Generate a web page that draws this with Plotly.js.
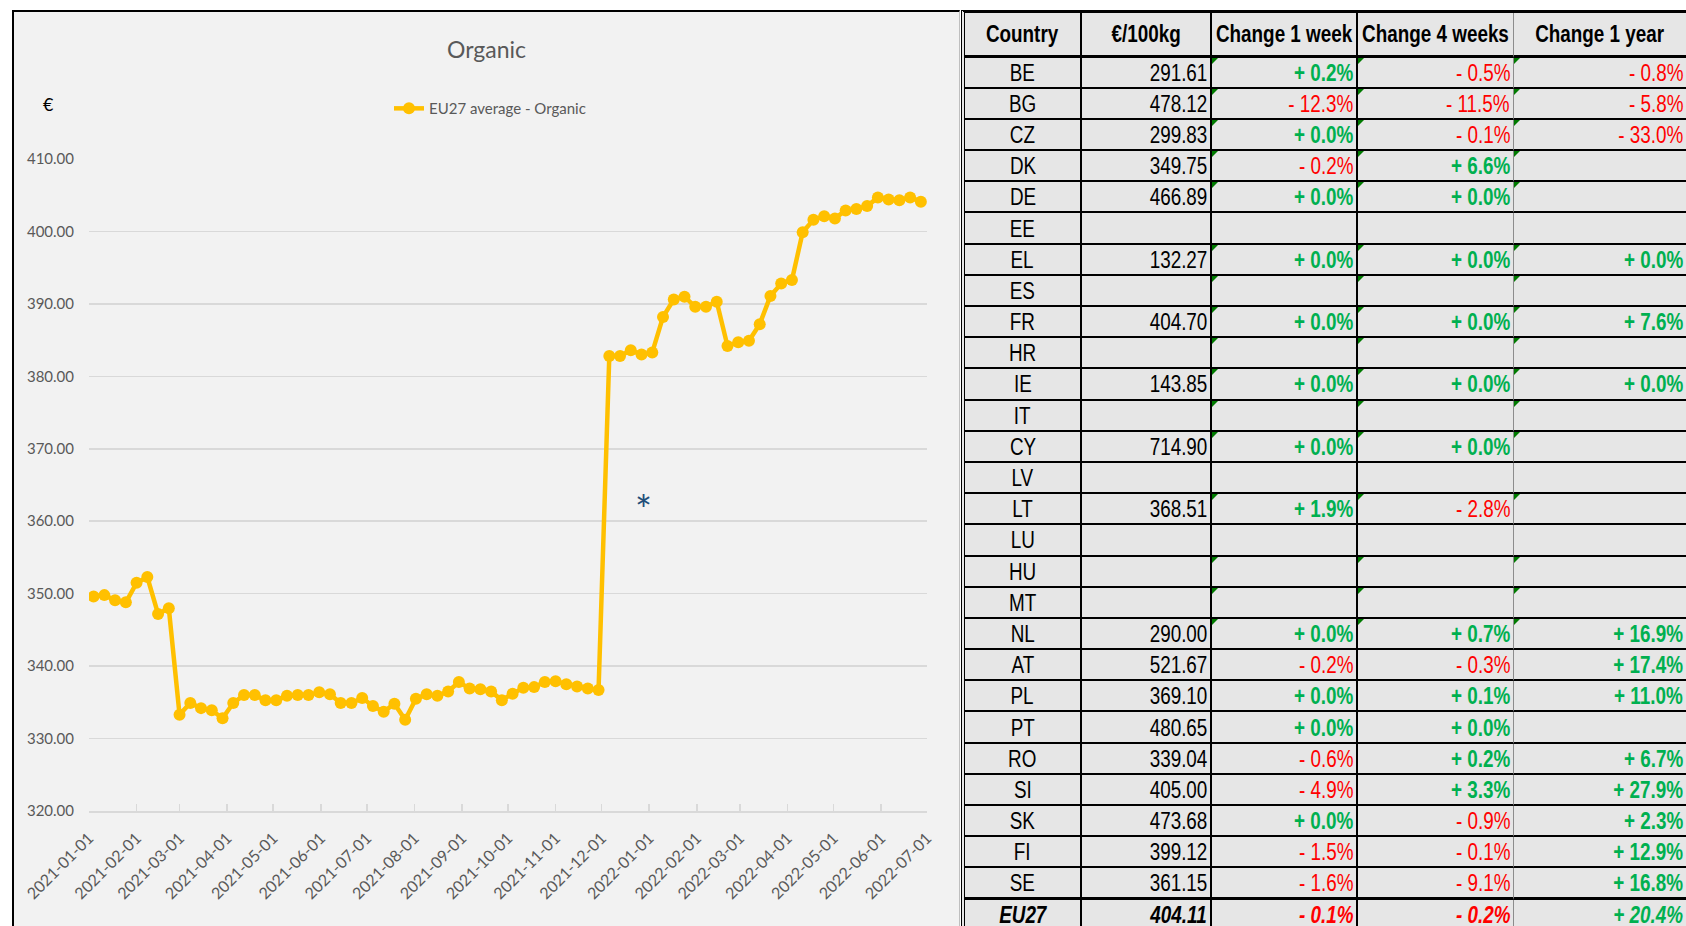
<!DOCTYPE html>
<html>
<head>
<meta charset="utf-8">
<script src="https://cdn.plot.ly/plotly-3.0.1.min.js"></script>
<style>
html,body{margin:0;padding:0;background:#ffffff;width:1686px;height:926px;overflow:hidden;}
#chart{position:absolute;left:12px;top:10px;width:945px;height:914px;border-left:2px solid #000;border-top:2px solid #000;border-right:1px solid #bfbfbf;background:#f2f2f2;}
#tbl{position:absolute;left:961px;top:10px;border-left:4px double #000;border-top:3px solid #000;display:grid;
  grid-template-columns:117px 130px 146px 156px 172px;
  grid-template-rows:44.5px repeat(28,31.2px);
  font-family:"Liberation Sans",Arimo,Arial,sans-serif;font-size:23px;background:#e6e6e6;color:#000;}
.c{box-sizing:border-box;border-right:2px solid #000;border-bottom:2px solid #000;display:flex;align-items:center;justify-content:flex-end;padding-right:3px;padding-top:2px;white-space:nowrap;position:relative;line-height:1;overflow:hidden;}
.c span{display:inline-block;transform:scaleX(0.82);transform-origin:right center;}
.c.col0,.c.hdr{justify-content:center;padding-right:0;}
.c.col0 span,.c.hdr span{transform-origin:center center;}
.c.col3{border-right:1px solid #8c8c8c;}
.c.col4{border-right:none;}
.c.hdr{font-weight:bold;border-bottom:3px solid #000;}
.c.last{border-bottom:3px solid #000;}
.c.tot{font-weight:bold;font-style:italic;}
.c.pos{color:#00b050;font-weight:bold;}
.c.neg{color:#ff0000;}
.c.tri::before{content:"";position:absolute;left:0;top:0;width:0;height:0;border-top:6px solid #007a00;border-right:6px solid transparent;}
</style>
</head>
<body>
<div id="chart"></div>
<div id="tbl"></div>
<script>
// ---------- chart data ----------
const weekDates = [
 '2021-01-04','2021-01-11','2021-01-18','2021-01-25','2021-02-01','2021-02-08','2021-02-15','2021-02-22',
 '2021-03-01','2021-03-08','2021-03-15','2021-03-22','2021-03-29','2021-04-05','2021-04-12','2021-04-19',
 '2021-04-26','2021-05-03','2021-05-10','2021-05-17','2021-05-24','2021-05-31','2021-06-07','2021-06-14',
 '2021-06-21','2021-06-28','2021-07-05','2021-07-12','2021-07-19','2021-07-26','2021-08-02','2021-08-09',
 '2021-08-16','2021-08-23','2021-08-30','2021-09-06','2021-09-13','2021-09-20','2021-09-27','2021-10-04',
 '2021-10-11','2021-10-18','2021-10-25','2021-11-01','2021-11-08','2021-11-15','2021-11-22','2021-11-29',
 '2021-12-06','2021-12-13','2021-12-20','2021-12-27','2022-01-03','2022-01-10','2022-01-17','2022-01-24',
 '2022-01-31','2022-02-07','2022-02-14','2022-02-21','2022-02-28','2022-03-07','2022-03-14','2022-03-21',
 '2022-03-28','2022-04-04','2022-04-11','2022-04-18','2022-04-25','2022-05-02','2022-05-09','2022-05-16',
 '2022-05-23','2022-05-30','2022-06-06','2022-06-13','2022-06-20','2022-06-27'
];
const eu27Organic = [
 349.6,349.8,349.1,348.8,351.5,352.3,347.2,348.0,
 333.3,334.9,334.2,333.9,332.8,334.9,336.0,336.0,
 335.3,335.3,335.9,336.0,336.0,336.4,336.1,334.9,
 334.9,335.6,334.5,333.7,334.8,332.6,335.5,336.1,
 335.9,336.5,337.8,336.9,336.8,336.5,335.3,336.2,
 337.0,337.1,337.8,337.9,337.5,337.2,336.9,336.7,
 382.8,382.8,383.6,383.0,383.3,388.2,390.6,391.0,
 389.6,389.6,390.3,384.2,384.7,384.9,387.2,391.1,
 392.8,393.3,399.9,401.6,402.1,401.8,402.9,403.1,
 403.5,404.7,404.4,404.3,404.7,404.11
];
const seriesName = 'EU27 average - Organic';
const chartTitle = 'Organic';
const yUnit = '€';
const noteMark = '*';
const noteDate = '2021-12-28';
const noteValue = 362.5;

// ---------- table data ----------
const tableHeaders = ['Country','€/100kg','Change 1 week','Change 4 weeks','Change 1 year'];
const countries = ['BE','BG','CZ','DK','DE','EE','EL','ES','FR','HR','IE','IT','CY','LV','LT','LU','HU','MT','NL','AT','PL','PT','RO','SI','SK','FI','SE','EU27'];
const pricePer100kg = [291.61,478.12,299.83,349.75,466.89,null,132.27,null,404.70,null,143.85,null,714.90,null,368.51,null,null,null,290.00,521.67,369.10,480.65,339.04,405.00,473.68,399.12,361.15,404.11];
const change1Week = [0.2,-12.3,0.0,-0.2,0.0,null,0.0,null,0.0,null,0.0,null,0.0,null,1.9,null,null,null,0.0,-0.2,0.0,0.0,-0.6,-4.9,0.0,-1.5,-1.6,-0.1];
const change4Weeks = [-0.5,-11.5,-0.1,6.6,0.0,null,0.0,null,0.0,null,0.0,null,0.0,null,-2.8,null,null,null,0.7,-0.3,0.1,0.0,0.2,3.3,-0.9,-0.1,-9.1,-0.2];
const change1Year = [-0.8,-5.8,-33.0,null,null,null,0.0,null,7.6,null,0.0,null,null,null,null,null,null,null,16.9,17.4,11.0,null,6.7,27.9,2.3,12.9,16.8,20.4];
const textStoredFlag = [1,1,1,1,1,0,1,1,1,1,1,1,1,0,1,0,1,1,1,0,0,0,0,0,0,0,0,0];

// ---------- chart ----------
const trace = {
  x: weekDates, y: eu27Organic, type: 'scatter', mode: 'lines+markers', name: seriesName,
  line: {color: '#FFC000', width: 4.5}, marker: {color: '#FFC000', size: 12}
};
const layout = {
  width: 945, height: 914,
  paper_bgcolor: '#f2f2f2', plot_bgcolor: '#f2f2f2',
  margin: {l: 75, r: 32, t: 147, b: 115},
  font: {family: 'Lato, "Open Sans", sans-serif', color: '#595959', size: 14},
  title: {text: chartTitle, font: {size: 23, color: '#595959'}, x: 0.5, xref: 'container', xanchor: 'center', y: 0.958, yref: 'container', yanchor: 'middle'},
  showlegend: true,
  legend: {orientation: 'h', x: 0.4785, xanchor: 'center', y: 1.0773, yanchor: 'middle', font: {size: 15, color: '#595959'}, bgcolor: 'rgba(0,0,0,0)'},
  xaxis: {type: 'date', range: ['2021-01-01', '2022-07-01'], tick0: '2021-01-01', dtick: 'M1', tickformat: '%Y-%m-%d', tickangle: -45,
    showgrid: false, zeroline: false, showline: true, linecolor: '#d9d9d9', linewidth: 1.5,
    ticks: 'inside', ticklen: 7, tickwidth: 1.5, tickcolor: '#d9d9d9', tickfont: {size: 16, color: '#595959'}, ticklabelstandoff: 10},
  yaxis: {range: [320, 410], tick0: 320, dtick: 10, tickformat: '.2f', showgrid: true, gridcolor: '#d9d9d9', gridwidth: 1.5,
    zeroline: false, showline: false, ticks: '', tickfont: {size: 15, color: '#595959'}, ticklabelstandoff: 14},
  annotations: [
    {xref: 'paper', yref: 'paper', x: -0.0489, y: 1.0844, text: yUnit, showarrow: false, font: {size: 18, color: '#000'}, xanchor: 'center', yanchor: 'middle'},
    {x: noteDate, y: noteValue, text: noteMark, showarrow: false, font: {size: 40, color: '#1f4e79'}, xanchor: 'center', yanchor: 'middle', yshift: -7}
  ]
};
Plotly.newPlot('chart', [trace], layout, {staticPlot: true, displayModeBar: false});

// ---------- table ----------
const tbl = document.getElementById('tbl');
function addCell(text, classes) {
  const d = document.createElement('div');
  d.className = 'c ' + classes.join(' ');
  const s = document.createElement('span');
  s.textContent = text;
  d.appendChild(s);
  tbl.appendChild(d);
}
tableHeaders.forEach((h, j) => addCell(h, ['hdr', 'col' + j]));
function fmtChange(v) {
  if (v === null) return ['', ''];
  return v < 0 ? ['- ' + Math.abs(v).toFixed(1) + '%', 'neg'] : ['+ ' + v.toFixed(1) + '%', 'pos'];
}
countries.forEach((c, i) => {
  const extra = [];
  if (i === countries.length - 2) extra.push('last');
  if (c === 'EU27') extra.push('tot');
  addCell(c, ['col0'].concat(extra));
  addCell(pricePer100kg[i] === null ? '' : pricePer100kg[i].toFixed(2), ['col1'].concat(extra));
  [change1Week, change4Weeks, change1Year].forEach((arr, k) => {
    const [t, cls] = fmtChange(arr[i]);
    const cl = ['col' + (k + 2)].concat(extra);
    if (cls) cl.push(cls);
    if (textStoredFlag[i]) cl.push('tri');
    addCell(t, cl);
  });
});
</script>
</body>
</html>
